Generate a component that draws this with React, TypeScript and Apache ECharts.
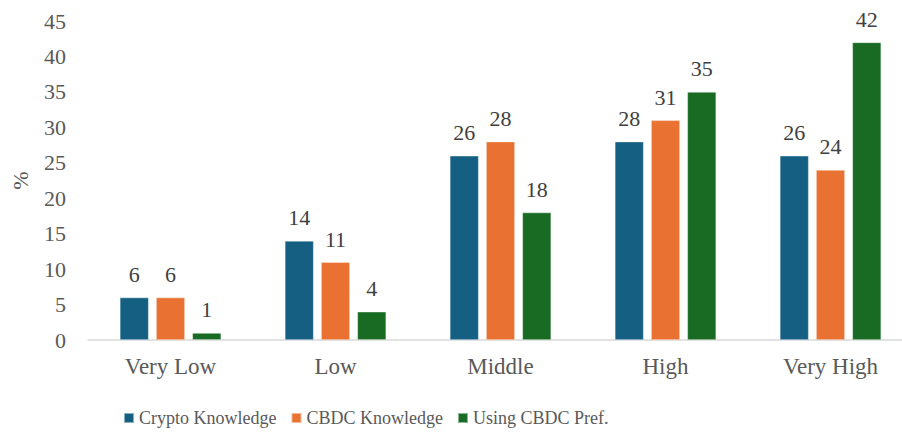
import React, { useEffect, useRef } from "react";
import * as echarts from "echarts";

const categories = ["Very Low", "Low", "Middle", "High", "Very High"];
const cryptoKnowledge = [6, 14, 26, 28, 26];
const cbdcKnowledge = [6, 11, 28, 31, 24];
const usingCbdcPref = [1, 4, 18, 35, 42];
const seriesNames = ["Crypto Knowledge", "CBDC Knowledge", "Using CBDC Pref."];
const colors = ["#156082", "#E97132", "#196B24"];

const FONT = "Liberation Serif";

export default function App() {
  const ref = useRef<HTMLDivElement>(null);
  useEffect(() => {
    if (!ref.current) return;
    const chart = echarts.init(ref.current, undefined, { renderer: "svg" });
    const values = [cryptoKnowledge, cbdcKnowledge, usingCbdcPref];
    chart.setOption({
      animation: false,
      backgroundColor: "#ffffff",
      textStyle: { fontFamily: FONT },
      grid: {
        left: 88,
        top: 21,
        width: 825,
        height: 319,
        containLabel: false,
        outerBoundsMode: "none",
      },
      legend: {
        left: 118,
        top: 404,
        itemWidth: 10,
        itemHeight: 10,
        itemGap: 14,
        icon: "rect",
        textStyle: { fontFamily: FONT, fontSize: 18, color: "#595959" },
        data: seriesNames,
      },
      xAxis: {
        type: "category",
        data: categories,
        axisLine: { lineStyle: { color: "#d9d9d9", width: 1.5 } },
        axisTick: { show: false },
        axisLabel: { fontFamily: FONT, fontSize: 23, color: "#595959", margin: 15 },
      },
      yAxis: {
        type: "value",
        min: 0,
        max: 45,
        interval: 5,
        name: "%",
        nameLocation: "middle",
        nameRotate: 90,
        nameGap: 57,
        nameTextStyle: { fontFamily: FONT, fontSize: 22, color: "#595959" },
        axisLine: { show: false },
        axisTick: { show: false },
        splitLine: { show: false },
        axisLabel: { fontFamily: FONT, fontSize: 22, color: "#595959", margin: 22 },
      },
      series: seriesNames.map((name, i) => ({
        name,
        type: "bar",
        data: values[i],
        barWidth: 29,
        barGap: "25%",
        itemStyle: { color: colors[i], borderColor: "rgba(255,255,255,0.5)", borderWidth: 0.75 },
        label: {
          show: true,
          position: "top",
          distance: 12,
          fontFamily: FONT,
          fontSize: 22,
          color: "#404040",
        },
      })),
    });
    return () => chart.dispose();
  }, []);
  return (
    <div
      ref={ref}
      style={{ position: "fixed", left: 0, top: 0, width: 902, height: 434 }}
    />
  );
}
